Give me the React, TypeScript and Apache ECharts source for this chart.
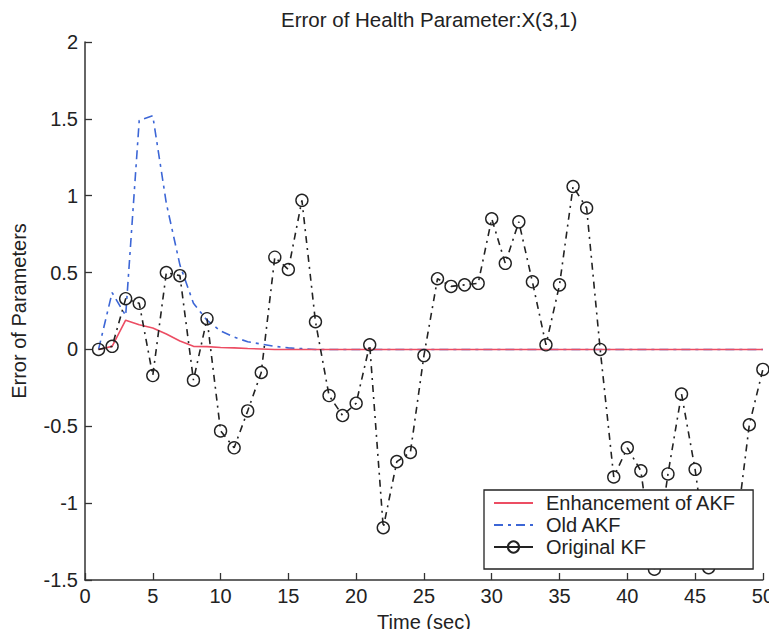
import React, { useEffect, useRef } from "react";
import * as echarts from "echarts";

const timeSec = [
  1, 2, 3, 4, 5, 6, 7, 8, 9, 10, 11, 12, 13, 14, 15, 16, 17, 18, 19, 20, 21, 22, 23, 24, 25,
  26, 27, 28, 29, 30, 31, 32, 33, 34, 35, 36, 37, 38, 39, 40, 41, 42, 43, 44, 45, 46, 47, 48, 49, 50,
];

const enhancementAKF = [
  0, 0.02, 0.19, 0.16, 0.14, 0.1, 0.055, 0.02, 0.018, 0.013, 0.01, 0.006, 0.003, 0, 0, 0, 0, 0, 0, 0, 0, 0, 0, 0, 0,
  0, 0, 0, 0, 0, 0, 0, 0, 0, 0, 0, 0, 0, 0, 0, 0, 0, 0, 0, 0, 0, 0, 0, 0, 0,
];

const oldAKF = [
  0, 0.37, 0.22, 1.49, 1.52, 0.95, 0.55, 0.3, 0.19, 0.12, 0.08, 0.05, 0.035, 0.02, 0.01, 0.005, 0, 0, 0, 0, 0, 0, 0, 0, 0,
  0, 0, 0, 0, 0, 0, 0, 0, 0, 0, 0, 0, 0, 0, 0, 0, 0, 0, 0, 0, 0, 0, 0, 0, 0,
];

const originalKF = [
  0, 0.02, 0.33, 0.3, -0.17, 0.5, 0.48, -0.2, 0.2, -0.53, -0.64, -0.4, -0.15, 0.6, 0.52, 0.97, 0.18, -0.3, -0.43, -0.35,
  0.03, -1.16, -0.73, -0.67, -0.04, 0.46, 0.41, 0.42, 0.43, 0.85, 0.56, 0.83, 0.44, 0.03, 0.42, 1.06, 0.92, 0.0, -0.83,
  -0.64, -0.79, -1.43, -0.81, -0.29, -0.78, -1.42, -1.25, -1.2, -0.49, -0.13,
];

const seriesNames = ["Enhancement of AKF", "Old AKF", "Original KF"];
const titleText = "Error of Health Parameter:X(3,1)";
const xName = "Time (sec)";
const yName = "Error of Parameters";

const FONT = '"Liberation Sans", Arial, Helvetica, sans-serif';
const TXT = "#222";
const AX = "#333";

export default function App() {
  const ref = useRef<HTMLDivElement>(null);
  useEffect(() => {
    if (!ref.current) return;
    const chart = echarts.init(ref.current, null, { renderer: "svg" });
    const pair = (arr: number[]) => timeSec.map((t, i) => [t, arr[i]]);
    chart.setOption({
      animation: false,
      backgroundColor: "#fff",
      title: {
        text: titleText,
        left: 276,
        top: 4,
        textStyle: { fontSize: 20.5, fontWeight: "normal", color: TXT, fontFamily: FONT },
      },
      grid: { left: 85, right: 12, top: 42, bottom: 57, containLabel: false },
      xAxis: {
        type: "value",
        min: 0,
        max: 50,
        interval: 5,
        name: xName,
        nameLocation: "middle",
        nameGap: 32,
        nameTextStyle: { fontSize: 20, color: TXT, fontFamily: FONT },
        axisLine: { show: true, onZero: false, lineStyle: { color: AX, width: 1.5 } },
        axisTick: { show: true, inside: true, length: 7, lineStyle: { color: AX, width: 1.3 } },
        axisLabel: { fontSize: 20, color: TXT, margin: 6, fontFamily: FONT },
        splitLine: { show: false },
      },
      yAxis: {
        type: "value",
        min: -1.5,
        max: 2,
        interval: 0.5,
        name: yName,
        nameLocation: "middle",
        nameGap: 56,
        nameTextStyle: { fontSize: 20, color: TXT, fontFamily: FONT },
        axisLine: { show: true, onZero: false, lineStyle: { color: AX, width: 1.5 } },
        axisTick: { show: true, inside: true, length: 7, lineStyle: { color: AX, width: 1.3 } },
        axisLabel: { fontSize: 20, color: TXT, margin: 7, fontFamily: FONT },
        splitLine: { show: false },
      },
      legend: {
        orient: "vertical",
        left: 484,
        top: 490,
        z: 10,
        itemWidth: 39,
        itemHeight: 14,
        itemGap: 2,
        padding: [3, 17, 12, 9],
        backgroundColor: "#fff",
        borderColor: "#222",
        borderWidth: 1.3,
        borderRadius: 0,
        textStyle: { fontSize: 20, lineHeight: 20, color: TXT, fontFamily: FONT, padding: [0, 0, 0, 8] },
        data: [
          { name: seriesNames[0], itemStyle: { opacity: 0 } },
          { name: seriesNames[1], itemStyle: { opacity: 0 } },
          { name: seriesNames[2], lineStyle: { type: "solid" } },
        ],
      },
      series: [
        {
          name: seriesNames[0],
          type: "line",
          data: pair(enhancementAKF),
          symbol: "none",
          lineStyle: { color: "#ec4d63", width: 1.6 },
          itemStyle: { color: "#ec4d63" },
          z: 2,
        },
        {
          name: seriesNames[1],
          type: "line",
          data: pair(oldAKF),
          symbol: "none",
          lineStyle: { color: "#3c66d6", width: 1.6, type: [9, 5, 3, 5] },
          itemStyle: { color: "#3c66d6" },
          z: 1,
        },
        {
          name: seriesNames[2],
          type: "line",
          data: pair(originalKF),
          symbol: "circle",
          symbolSize: 12,
          showAllSymbol: true,
          lineStyle: { color: "#222", width: 1.6, type: [7, 5, 2, 5] },
          itemStyle: { color: "rgba(255,255,255,0)", borderColor: "#222", borderWidth: 1.4 },
          z: 3,
        },
      ],
    });
    return () => chart.dispose();
  }, []);
  return <div ref={ref} style={{ width: 777, height: 637, margin: -8 }} />;
}
